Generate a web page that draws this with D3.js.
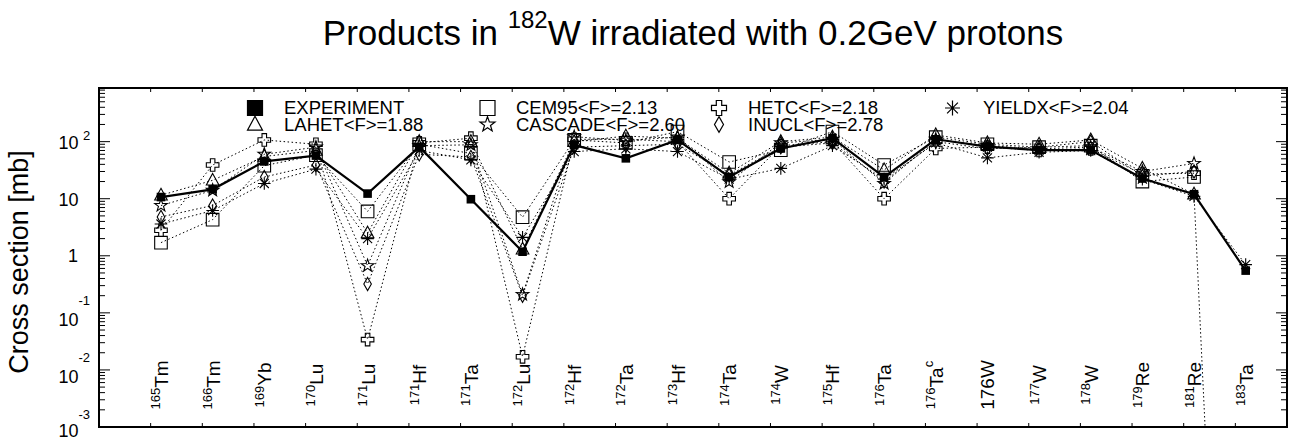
<!DOCTYPE html>
<html><head><meta charset="utf-8">
<script src="https://cdn.jsdelivr.net/npm/d3@7"></script>
<style>
html,body{margin:0;padding:0;background:#fff;}
text{font-family:"Liberation Sans",Arial,Helvetica,sans-serif;fill:#000;}
</style></head>
<body>
<svg id="chart" width="1292" height="437"></svg>
<script>
// ---- data ----
const labelMass = ["165","166","169","170","171","171","171","172","172","172","173","174","174","175","176","176","","177","178","179","181","183"];
const labelElem = ["Tm","Tm","Yb","Lu","Lu","Hf","Ta","Lu","Hf","Ta","Hf","Ta","W","Hf","Ta","Ta","176W","W","W","Re","Re","Ta"];
const labelSuffix = ["","","","","","","","","","","","","","","","c","","","","","",""];

const experiment = [10.7,14.6,45,57,12.3,81,9.8,1.18,87,51,107,24,76,115,24,110,82,71,71,22.6,12,0.55];
const lahet   = [11.5,21,55,70,2.5,100,100,1.3,100,125,115,28,100,120,32,131,95,90,107,34,12,1e-18];
const cem95   = [1.7,4.3,38,58,6.0,90,62,4.75,107,95,150,44,71,150,39,120,90,80,85,20,24,null];
const hetc    = [2.8,39,107,90,0.034,95,115,0.017,110,110,100,10,85,100,10,76,80,70,75,27,28,null];
const yieldx  = [3.6,6.2,18.5,33,2.0,70,48,2.1,67,75,67,22,34,85,22,95,52,65,70,22,11,0.7];
const cascade = [7.6,14,60,80,0.67,85,88,0.21,122,105,120,19.7,95,110,18.5,110,85,75,80,30,41.5,null];
const inucl   = [4.8,7.6,24,39,0.32,60,54,0.2,80,85,90,26,80,95,20,100,75,80,100,25,30,null];

const legendNames = ["EXPERIMENT","LAHET<F>=1.88","CEM95<F>=2.13","CASCADE<F>=2.60","HETC<F>=2.18","INUCL<F>=2.78","YIELDX<F>=2.04"];
const yDecades = [2,1,0,-1,-2,-3];

// ---- layout ----
const L=99,R=1287,T=88,B=427;
const svg = d3.select("#chart");
const x = d3.scaleLinear().domain([0,23]).range([L,R]);
const y = d3.scaleLog().domain([1e-3, Math.pow(10,2.94)]).range([B,T]);
const cx = i => x(i+1.2);

function shapePath(kind, s){
  const p = d3.path();
  if(kind==="square"||kind==="fsquare"){ p.rect(-s,-s,2*s,2*s); }
  else if(kind==="triangle"){ p.moveTo(0,-s*1.1); p.lineTo(s,s*0.75); p.lineTo(-s,s*0.75); p.closePath(); }
  else if(kind==="cross"){ const a=s*0.36;
    const pts=[[-a,-s],[a,-s],[a,-a],[s,-a],[s,a],[a,a],[a,s],[-a,s],[-a,a],[-s,a],[-s,-a],[-a,-a]];
    p.moveTo(pts[0][0],pts[0][1]); pts.slice(1).forEach(q=>p.lineTo(q[0],q[1])); p.closePath(); }
  else if(kind==="star"){ for(let k=0;k<10;k++){ const r=k%2?s*0.42:s*1.05; const a=-Math.PI/2+k*Math.PI/5;
      const px=r*Math.cos(a), py=r*Math.sin(a); k?p.lineTo(px,py):p.moveTo(px,py);} p.closePath(); }
  else if(kind==="diamond"){ p.moveTo(0,-s*1.05); p.lineTo(s*0.6,0); p.lineTo(0,s*1.05); p.lineTo(-s*0.6,0); p.closePath(); }
  else if(kind==="asterisk"){ const d=s*0.72;
    p.moveTo(0,-s);p.lineTo(0,s); p.moveTo(-s,0);p.lineTo(s,0);
    p.moveTo(-d,-d);p.lineTo(d,d); p.moveTo(-d,d);p.lineTo(d,-d); }
  return p.toString();
}

svg.append("defs").append("clipPath").attr("id","plotclip")
  .append("rect").attr("x",L).attr("y",T).attr("width",R-L).attr("height",B-T);

const models = [
  {vals:lahet, kind:"triangle"},
  {vals:cem95, kind:"square"},
  {vals:cascade, kind:"star"},
  {vals:hetc, kind:"cross"},
  {vals:inucl, kind:"diamond"},
  {vals:yieldx, kind:"asterisk"}
];

const plot = svg.append("g").attr("clip-path","url(#plotclip)");
const line = d3.line().defined(d=>d.v!=null).x(d=>cx(d.i)).y(d=>y(d.v));

models.forEach(m=>{
  const pts = m.vals.map((v,i)=>({i,v}));
  plot.append("path").attr("d",line(pts)).attr("fill","none")
    .attr("stroke","#000").attr("stroke-width",1).attr("stroke-dasharray","1.5,2.5");
});
models.forEach(m=>{
  m.vals.forEach((v,i)=>{
    if(v==null||v<1e-3) return;
    plot.append("path").attr("d",shapePath(m.kind,6.3))
      .attr("transform",`translate(${cx(i)},${y(v)})`)
      .attr("fill","none").attr("stroke","#000").attr("stroke-width",1.1);
  });
});
const expPts = experiment.map((v,i)=>({i,v}));
plot.append("path").attr("d",line(expPts)).attr("fill","none").attr("stroke","#000").attr("stroke-width",2.2);
expPts.forEach(d=>{
  plot.append("path").attr("d",shapePath("fsquare",4.3))
    .attr("transform",`translate(${cx(d.i)},${y(d.v)})`).attr("fill","#000");
});

// frame
svg.append("rect").attr("x",L).attr("y",T).attr("width",R-L).attr("height",B-T)
  .attr("fill","none").attr("stroke","#000").attr("stroke-width",2);

// ticks
const yt = svg.append("g");
for(let e=-3;e<=2;e++){
  for(let m=1;m<=9;m++){
    const v=m*Math.pow(10,e);
    if(v>y.domain()[1]) continue;
    const len = m===1?11:6;
    yt.append("line").attr("x1",L).attr("x2",L+len).attr("y1",y(v)).attr("y2",y(v)).attr("stroke","#000").attr("stroke-width",1);
    yt.append("line").attr("x1",R).attr("x2",R-len).attr("y1",y(v)).attr("y2",y(v)).attr("stroke","#000").attr("stroke-width",1);
  }
}
d3.range(1,23).forEach(k=>{
  yt.append("line").attr("x1",x(k)).attr("x2",x(k)).attr("y1",B).attr("y2",B-4).attr("stroke","#000");
  yt.append("line").attr("x1",x(k)).attr("x2",x(k)).attr("y1",T).attr("y2",T+4).attr("stroke","#000");
});

// y tick labels
yDecades.forEach(e=>{
  const ty = y(Math.pow(10,e));
  if(e===0){
    svg.append("text").attr("x",78).attr("y",ty+6.5).attr("text-anchor","end").attr("font-size",18).text("1");
  } else if(e===1){
    svg.append("text").attr("x",78.5).attr("y",ty+7).attr("text-anchor","end").attr("font-size",18).text("10");
  } else if(e>1){
    svg.append("text").attr("x",78.5).attr("y",ty+7.5).attr("text-anchor","end").attr("font-size",18).text("10");
    svg.append("text").attr("x",83).attr("y",ty-2).attr("font-size",13).text(String(e));
  } else {
    const by = e===-3 ? 436.5 : ty+13;
    svg.append("text").attr("x",78.5).attr("y",by).attr("text-anchor","end").attr("font-size",18).text("10");
    svg.append("text").attr("x",78.5).attr("y",ty-8).attr("font-size",13).text(String(e));
  }
});

// y axis title
svg.append("text").attr("x",-262).attr("y",28).attr("transform","rotate(-90)")
  .attr("text-anchor","middle").attr("font-size",27).text("Cross section [mb]");

// x labels (vertical, reading upward)
labelElem.forEach((el,i)=>{
  const px = cx(i)+7;
  const t = svg.append("text").attr("x",-385).attr("y",px)
    .attr("transform","rotate(-90)").attr("text-anchor","middle");
  if(labelMass[i]){
    t.append("tspan").attr("font-size",13).attr("dy",-7.5).text(labelMass[i]);
    t.append("tspan").attr("font-size",19).attr("dy",7.5).text(el);
  } else {
    t.append("tspan").attr("font-size",19).text(el);
  }
  if(labelSuffix[i]){
    t.append("tspan").attr("font-size",13).attr("dy",-9.5).text(labelSuffix[i]);
  }
});

// title
const title = svg.append("text").attr("x",693).attr("y",45).attr("text-anchor","middle").attr("font-size",35);
title.append("tspan").text("Products in ");
title.append("tspan").attr("font-size",24).attr("dy",-17).text("182");
title.append("tspan").attr("dy",17).text("W irradiated with 0.2GeV protons");

// legend
const legendKinds = ["fsquare","triangle","square","star","cross","diamond","asterisk"];
const colMarkerX = [255,255,487.5,487.5,719,719,952.5];
const rowY = [108,124.5,108,124.5,108,124.5,108];
const colTextX = [284,284,516,516,748,748,983];
legendNames.forEach((name,k)=>{
  const kind = legendKinds[k];
  svg.append("path").attr("d",shapePath(kind,7.5))
    .attr("transform",`translate(${colMarkerX[k]},${rowY[k]})`)
    .attr("fill",kind==="fsquare"?"#000":"none").attr("stroke","#000").attr("stroke-width",1.2);
  svg.append("text").attr("x",colTextX[k]).attr("y",rowY[k]+6.3).attr("font-size",18.5).text(name);
});
</script>
</body></html>
